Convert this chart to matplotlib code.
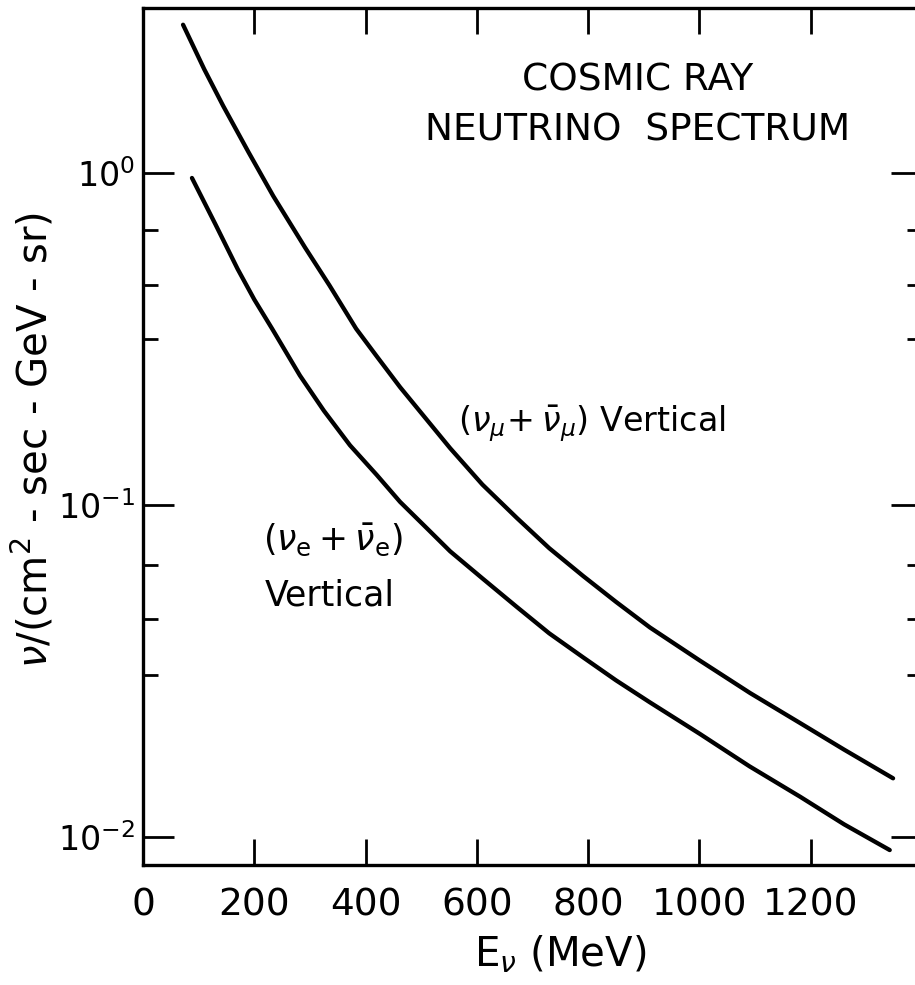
import numpy as np
import matplotlib
matplotlib.use("Agg")
import matplotlib.pyplot as plt

# energies (MeV) and fluxes
e_mu = [72, 110, 144, 190, 234, 291, 335, 383, 420, 462, 552, 610, 672, 730,
        791, 850, 911, 1000, 1091, 1181, 1260, 1348]
flux_mu = [2.79, 2.05, 1.59, 1.15, 0.851, 0.596, 0.458, 0.339, 0.280, 0.226,
           0.148, 0.115, 0.0912, 0.0740, 0.0610, 0.0510, 0.0427, 0.0340,
           0.0271, 0.0220, 0.0183, 0.0150]

e_e = [88, 130, 170, 200, 232, 282, 325, 372, 420, 462, 510, 552, 610, 672,
       730, 791, 850, 911, 1001, 1090, 1181, 1260, 1342]
flux_e = [0.964, 0.700, 0.513, 0.415, 0.339, 0.245, 0.192, 0.151, 0.123,
          0.102, 0.0850, 0.0724, 0.0600, 0.0492, 0.0410, 0.0347, 0.0296,
          0.0254, 0.0204, 0.0163, 0.0132, 0.0109, 0.00912]

x_ticks = [0, 200, 400, 600, 800, 1000, 1200]
y_major = [1e-2, 1e-1, 1e0]
y_major_labels = [r"$10^{-2}$", r"$10^{-1}$", r"$10^{0}$"]
y_minor = [0.672, 0.458, 0.315, 0.066, 0.0454, 0.0308]

plt.rcParams["font.family"] = ["DejaVu Sans"]
plt.rcParams["mathtext.fontset"] = "dejavusans"

fig = plt.figure(figsize=(9.15, 9.85), dpi=100)
# right spine sits just outside the picture, as in the original scan
ax = fig.add_axes([143 / 915, 120 / 985, 779 / 915, 857 / 985])

ax.plot(e_mu, flux_mu, color="black", lw=3.1, solid_capstyle="round",
        solid_joinstyle="round")
ax.plot(e_e, flux_e, color="black", lw=3.1, solid_capstyle="round",
        solid_joinstyle="round")

ax.set_yscale("log")
ax.set_xlim(0, 1400)
ax.set_ylim(10 ** -2.085, 10 ** 0.496)

for s in ax.spines.values():
    s.set_linewidth(2.4)

ax.set_xticks(x_ticks)
ax.set_xticklabels([str(v) for v in x_ticks])
ax.set_yticks(y_major)
ax.set_yticklabels(y_major_labels)
ax.set_yticks(y_minor, minor=True)
ax.yaxis.set_minor_formatter(matplotlib.ticker.NullFormatter())
ax.xaxis.set_minor_locator(matplotlib.ticker.NullLocator())

ax.tick_params(axis="x", which="major", direction="in", length=19, width=2,
               top=True, labelsize=27, pad=16)
ax.tick_params(axis="y", which="major", direction="in", length=22, width=2,
               right=True, labelsize=24, pad=6)
ax.tick_params(axis="y", which="minor", direction="in", length=11, width=2,
               right=True)

ax.text(0.635, 0.915, "COSMIC RAY", transform=ax.transAxes, ha="center",
        va="center", fontsize=27)
ax.text(0.635, 0.857, "NEUTRINO  SPECTRUM", transform=ax.transAxes, ha="center",
        va="center", fontsize=27)

ax.text(0.404, 0.515, r"$(\nu_\mu\!+\bar{\nu}_\mu)$ Vertical",
        transform=ax.transAxes, ha="left", va="center", fontsize=24)
ax.text(0.154, 0.380, r"$(\nu_{\rm e}+\bar{\nu}_{\rm e})$",
        transform=ax.transAxes, ha="left", va="center", fontsize=25)
ax.text(0.156, 0.315, "Vertical", transform=ax.transAxes, ha="left",
        va="center", fontsize=25)

fig.text(560 / 915, 1 - 955 / 985, r"E$_\nu$ (MeV)", ha="center", va="center",
         fontsize=29)
fig.text(33 / 915, 1 - 440 / 985, r"$\nu$/(cm$^2$ - sec - GeV - sr)",
         rotation=90, ha="center", va="center", fontsize=29)

fig.savefig("out.png", dpi=100)
